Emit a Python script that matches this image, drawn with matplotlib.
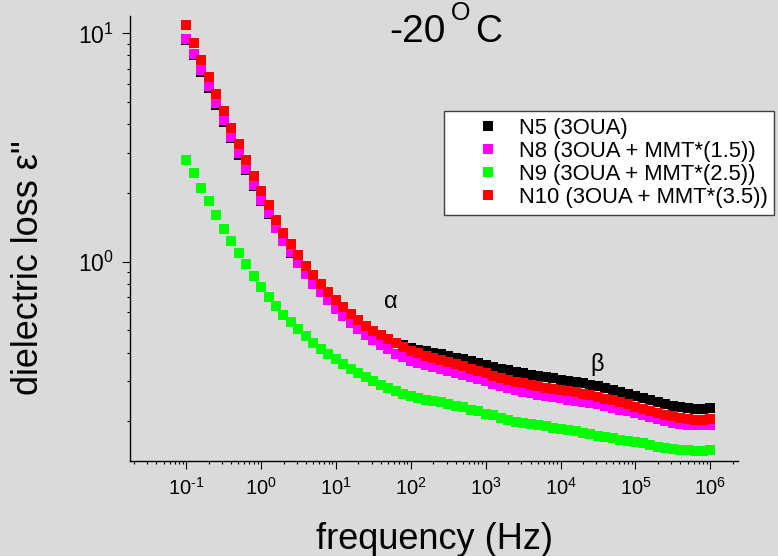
import numpy as np
import matplotlib
matplotlib.use('Agg')
from matplotlib import pyplot as plt
from matplotlib import ticker

plt.rcParams['font.family'] = ['Liberation Sans', 'DejaVu Sans']
plt.rcParams['mathtext.fontset'] = 'custom'
plt.rcParams['mathtext.rm'] = 'Liberation Sans'
plt.rcParams['mathtext.it'] = 'Liberation Sans:italic'
plt.rcParams['mathtext.bf'] = 'Liberation Sans:bold'
plt.rcParams['mathtext.default'] = 'regular'
plt.rcParams['axes.unicode_minus'] = False

# measurement grid, 10 points per decade from 0.1 Hz to 1 MHz
freq = np.logspace(-1, 6, 71)

labels = ['N5 (3OUA)', 'N8 (3OUA + MMT*(1.5))', 'N9 (3OUA + MMT*(2.5))', 'N10 (3OUA + MMT*(3.5))']
colors = ['#000000', '#ff00ff', '#00ff00', '#ff0000']

n5 = [9.33, 8.02, 6.79, 5.77, 4.85, 4.10, 3.47, 2.94, 2.52, 2.15,
      1.85, 1.61, 1.40, 1.227, 1.096, 0.986, 0.889, 0.809, 0.748, 0.695,
      0.644, 0.603, 0.568, 0.538, 0.512, 0.490, 0.471, 0.455, 0.442, 0.430,
      0.418, 0.412, 0.406, 0.399, 0.393, 0.385, 0.379, 0.373, 0.366, 0.360,
      0.353, 0.347, 0.340, 0.335, 0.330, 0.324, 0.319, 0.315, 0.311, 0.308,
      0.304, 0.301, 0.296, 0.293, 0.288, 0.284, 0.279, 0.274, 0.269, 0.264,
      0.259, 0.253, 0.247, 0.243, 0.238, 0.234, 0.231, 0.229, 0.226, 0.226,
      0.228]

n8 = [9.48, 8.15, 6.90, 5.86, 4.93, 4.17, 3.52, 2.98, 2.55, 2.17,
      1.87, 1.63, 1.41, 1.236, 1.102, 0.986, 0.885, 0.802, 0.735, 0.678,
      0.622, 0.577, 0.538, 0.506, 0.476, 0.452, 0.431, 0.413, 0.396, 0.381,
      0.367, 0.360, 0.352, 0.345, 0.338, 0.332, 0.326, 0.320, 0.313, 0.305,
      0.299, 0.291, 0.284, 0.279, 0.274, 0.269, 0.265, 0.261, 0.258, 0.255,
      0.252, 0.249, 0.246, 0.243, 0.240, 0.237, 0.233, 0.229, 0.225, 0.221,
      0.217, 0.213, 0.208, 0.204, 0.200, 0.197, 0.195, 0.193, 0.192, 0.192,
      0.193]

n9 = [2.79, 2.44, 2.11, 1.84, 1.60, 1.39, 1.233, 1.094, 0.977, 0.869,
      0.778, 0.703, 0.640, 0.585, 0.546, 0.507, 0.473, 0.442, 0.416, 0.393,
      0.373, 0.356, 0.339, 0.324, 0.312, 0.300, 0.289, 0.279, 0.271, 0.264,
      0.258, 0.254, 0.249, 0.245, 0.242, 0.238, 0.234, 0.230, 0.225, 0.221,
      0.216, 0.212, 0.207, 0.203, 0.1995, 0.197, 0.195, 0.192, 0.190, 0.1875,
      0.185, 0.183, 0.181, 0.178, 0.176, 0.173, 0.171, 0.169, 0.166, 0.164,
      0.162, 0.160, 0.157, 0.155, 0.153, 0.151, 0.150, 0.149, 0.148, 0.148,
      0.150]

n10 = [10.9, 9.10, 7.64, 6.44, 5.43, 4.57, 3.86, 3.27, 2.79, 2.37,
       2.04, 1.77, 1.53, 1.34, 1.197, 1.072, 0.962, 0.871, 0.800, 0.738,
       0.679, 0.631, 0.590, 0.556, 0.525, 0.499, 0.476, 0.457, 0.440, 0.423,
       0.406, 0.397, 0.388, 0.379, 0.371, 0.362, 0.355, 0.348, 0.340, 0.332,
       0.324, 0.317, 0.310, 0.303, 0.298, 0.293, 0.288, 0.284, 0.281, 0.278,
       0.275, 0.272, 0.268, 0.264, 0.260, 0.256, 0.251, 0.247, 0.242, 0.237,
       0.232, 0.227, 0.222, 0.217, 0.213, 0.210, 0.207, 0.205, 0.203, 0.203,
       0.205]

series = [n5, n8, n9, n10]


def pow10_label(v, pos):
    # plain hyphen in the exponent, like the original plot
    e = int(round(np.log10(v)))
    return '$10^{\\text{%d}}$' % e


W, H = 778, 556
fig = plt.figure(figsize=(W / 100, H / 100), dpi=100, facecolor='#dadada')
ax = fig.add_axes([130 / W, 1 - 461 / H, 608 / W, 445 / H])
ax.set_facecolor('none')

for vals, lab, col in zip(series, labels, colors):
    ax.plot(freq, vals, linestyle='none', marker='s', markersize=7.2,
            markeredgewidth=0, color=col, label=lab)

ax.set_xscale('log')
ax.set_yscale('log')
ax.set_xlim(10 ** -1.75, 10 ** 6.37)
ax.set_ylim(10 ** -0.873, 10 ** 1.076)

ax.spines['top'].set_visible(False)
ax.spines['right'].set_visible(False)
for s in ['left', 'bottom']:
    ax.spines[s].set_linewidth(1.0)

ax.xaxis.set_major_locator(ticker.LogLocator(base=10, numticks=20))
ax.xaxis.set_minor_locator(ticker.LogLocator(base=10, subs=np.arange(2, 10), numticks=20))
ax.yaxis.set_minor_locator(ticker.LogLocator(base=10, subs=np.arange(2, 10), numticks=20))
ax.xaxis.set_major_formatter(ticker.FuncFormatter(pow10_label))
ax.yaxis.set_major_formatter(ticker.FuncFormatter(pow10_label))
ax.xaxis.set_minor_formatter(ticker.NullFormatter())
ax.yaxis.set_minor_formatter(ticker.NullFormatter())

ax.tick_params(axis='both', which='major', direction='out', length=5.5, width=0.8)
ax.tick_params(axis='both', which='minor', direction='out', length=2.5, width=0.8)
ax.tick_params(axis='x', which='major', labelsize=14.5, pad=6)
ax.tick_params(axis='y', which='major', labelsize=16.5, pad=6)

ax.text(54.6, 0.668, 'α', fontsize=17, ha='center', va='center')
ax.text(3.04e4, 0.353, 'β', fontsize=17, ha='center', va='center')

# title built from pieces so the raised "O" sits as high as in the original
fig.text(389 / W, 1 - 41.7 / H, '-20', fontsize=28, ha='left', va='baseline')
fig.text(451 / W, 1 - 19.5 / H, 'O', fontsize=18, ha='left', va='baseline')
fig.text(475 / W, 1 - 41.7 / H, 'C', fontsize=27, ha='left', va='baseline')

fig.text(434.5 / W, 1 - 549 / H, 'frequency (Hz)', fontsize=26,
         ha='center', va='baseline')
fig.text(29 / W, 1 - 267.5 / H, 'dielectric loss ε"', fontsize=26,
         ha='center', va='center', rotation=90)

leg = ax.legend(loc='upper left', bbox_to_anchor=(444 / W, 1 - 111 / H),
                bbox_transform=fig.transFigure, borderaxespad=0,
                fontsize=15.8, borderpad=0.3, labelspacing=0.1,
                handlelength=3.4, handletextpad=-0.3, numpoints=1,
                fancybox=False, framealpha=1, edgecolor='#404040')
leg.get_frame().set_linewidth(1.0)

fig.savefig('out.png', dpi=100, facecolor=fig.get_facecolor())
